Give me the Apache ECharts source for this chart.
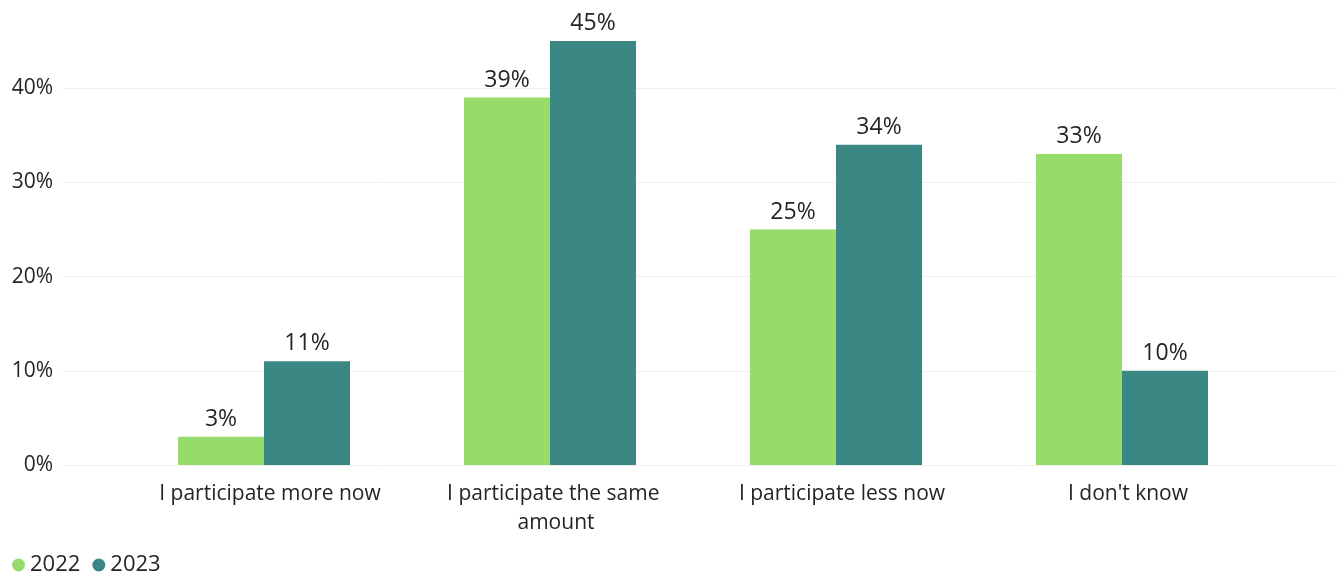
<!DOCTYPE html>
<html><head><meta charset="utf-8">
<script src="https://cdn.jsdelivr.net/npm/echarts@6/dist/echarts.min.js"></script>
<style>html,body{margin:0;padding:0;background:#fff}#c{width:1343px;height:575px}</style>
</head><body><div id="c"></div>
<script>
const categories = ['I participate more now', 'I participate the same amount', 'I participate less now', "I don't know"];
const seriesNames = ['2022', '2023'];
const values2022 = [3, 39, 25, 33];
const values2023 = [11, 45, 34, 10];
const colors = ['#97DC6A', '#3B8784'];
const FONT = '"Open Sans", "Noto Sans", sans-serif';
const TXT = '#252423';
const GRID = '#efefef';

const chart = echarts.init(document.getElementById('c'), null, {renderer: 'canvas'});
chart.setOption({
  animation: false,
  textStyle: {fontFamily: FONT},
  legend: {
    left: 7, top: 549, icon: 'circle', itemWidth: 13, itemHeight: 13, itemGap: 12,
    textStyle: {fontFamily: FONT, fontSize: 22, color: TXT},
    data: seriesNames
  },
  grid: [
    {left: 63, right: 6, top: 0, bottom: 110},
    {left: 121, right: 78, top: 0, bottom: 110}
  ],
  xAxis: [
    {type: 'category', gridIndex: 0, data: categories, show: false},
    {type: 'category', gridIndex: 1, data: categories,
     axisLine: {show: false}, axisTick: {show: false},
     axisLabel: {interval: 0, margin: 15, fontFamily: FONT, fontSize: 21, color: TXT,
       width: 270, overflow: 'break', lineHeight: 29, padding: [0, 0, 0, 12]}}
  ],
  yAxis: [
    {type: 'value', gridIndex: 0, min: 0, max: 49.36, interval: 10,
     axisLine: {show: false}, axisTick: {show: false},
     axisLabel: {showMaxLabel: false, margin: 10, fontFamily: FONT, fontSize: 21, color: TXT,
       formatter: v => v + '%'},
     splitLine: {lineStyle: {color: [GRID, GRID, GRID, GRID, GRID, 'rgba(0,0,0,0)'], width: 1}}},
    {type: 'value', gridIndex: 1, min: 0, max: 49.36, interval: 10, show: false, splitLine: {show: false}}
  ],
  series: [
    {name: seriesNames[0], type: 'bar', xAxisIndex: 1, yAxisIndex: 1, data: values2022,
     barWidth: 86, barGap: '0%', itemStyle: {color: colors[0]},
     label: {show: true, position: 'top', distance: 6, fontFamily: FONT, fontSize: 23, color: TXT, formatter: p => p.value + '%'}},
    {name: seriesNames[1], type: 'bar', xAxisIndex: 1, yAxisIndex: 1, data: values2023,
     barWidth: 86, barGap: '0%', itemStyle: {color: colors[1]},
     label: {show: true, position: 'top', distance: 6, fontFamily: FONT, fontSize: 23, color: TXT, formatter: p => p.value + '%'}}
  ]
});
</script></body></html>
